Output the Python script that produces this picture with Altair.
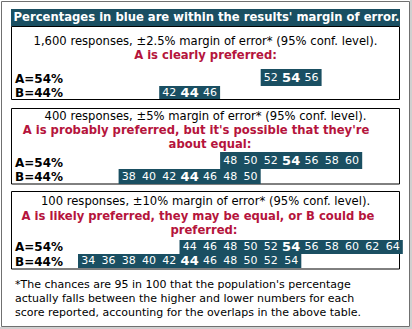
import altair as alt
import pandas as pd

# ---------------- data ----------------
TITLE = "Percentages in blue are within the results' margin of error."
SAMPLE_LINES = [
    "1,600 responses, \u00b12.5% margin of error* (95% conf. level).",
    "400 responses, \u00b15% margin of error* (95% conf. level).",
    "100 responses, \u00b110% margin of error* (95% conf. level).",
]
VERDICTS = [
    ["A is clearly preferred:"],
    ["A is probably preferred, but it's possible that they're", "about equal:"],
    ["A is likely preferred,  they may be equal, or B could be", "preferred:"],
]
LABEL_A = "A=54%"
LABEL_B = "B=44%"
SCORE_A = 54
SCORE_B = 44
A_1600 = [52, 54, 56]
B_1600 = [42, 44, 46]
A_400 = [48, 50, 52, 54, 56, 58, 60]
B_400 = [38, 40, 42, 44, 46, 48, 50]
A_100 = [44, 46, 48, 50, 52, 54, 56, 58, 60, 62, 64]
B_100 = [34, 36, 38, 40, 42, 44, 46, 48, 50, 52, 54]
FOOTNOTE = [
    "*The chances are 95 in 100 that the population's percentage",
    "actually falls between the higher and lower numbers for each",
    "score reported, accounting for the overlaps in the above table.",
]

# ---------------- layout / style ----------------
W, H = 412, 329
FONT = "DejaVu Sans"
TEAL = "#1a4f62"
RED = "#b5143c"
BODY = 11.6
PX_PER_PT = 10.15
X_AT_33 = 78
X0 = 33 - X_AT_33 / PX_PER_PT
X1 = X0 + W / PX_PER_PT

PANELS = [
    dict(box=(26, 99.5), lines=[42, 56], bars=(69, 86, 99), lab=(79, 93)),
    dict(box=(108, 184), lines=[117, 131, 145], bars=(152, 169, 184), lab=(163, 177)),
    dict(box=(191, 269), lines=[202, 217, 231], bars=(240, 254, 268), lab=(247, 262)),
]
CENTERS = [[205.5], [196, 210], [198, 204]]
FOOT_Y = [285, 299, 313]

# ---------------- build tables ----------------
vals = [(A_1600, B_1600), (A_400, B_400), (A_100, B_100)]
bar_rows, cell_rows = [], []
for p, (a_vals, b_vals) in enumerate(vals):
    at, ab, bb = PANELS[p]["bars"]
    for row, vs, score, y0, y1 in (("A", a_vals, SCORE_A, at, ab), ("B", b_vals, SCORE_B, ab, bb)):
        bar_rows.append(dict(panel=p, row=row, lo=min(vs) - 1, hi=max(vs) + 1, y0=y0, y1=y1))
        for v in vs:
            cell_rows.append(dict(panel=p, row=row, v=v, label=str(v),
                                  bold=(v == score), yc=(y0 + y1) / 2))
bars = pd.DataFrame(bar_rows)
cells = pd.DataFrame(cell_rows)

xs = alt.Scale(domain=[X0, X1], nice=False, zero=False)
ys = alt.Scale(domain=[0, H], reverse=True, nice=False, zero=False)

one = pd.DataFrame({"k": [0]})


def box(x0, x1, y0, y1, fill=None, stroke=None, sw=1):
    kw = {}
    if fill is not None:
        kw["fill"] = fill
    else:
        kw["fillOpacity"] = 0
    if stroke is not None:
        kw["stroke"] = stroke
        kw["strokeWidth"] = sw
    return alt.Chart(one).mark_rect(**kw).encode(
        x=alt.value(x0), x2=alt.value(x1), y=alt.value(y0), y2=alt.value(y1))


def txt(s, x, y, size=BODY, weight="normal", color="black", align="center"):
    return alt.Chart(pd.DataFrame({"t": [s]})).mark_text(
        align=align, baseline="middle", font=FONT, fontSize=size,
        fontWeight=weight, color=color).encode(
        x=alt.value(x), y=alt.value(y), text="t:N")


layers = []
# outer frame
layers.append(box(1.5, 409.5, 1.5, 326.5, stroke="#707070"))
layers.append(box(410, 412, 0, 329, fill="#d0d0d0"))
layers.append(box(0, 412, 327, 329, fill="#d0d0d0"))
# header
layers.append(box(11, 400, 9, 26, fill=TEAL))
layers.append(txt(TITLE, 206.5, 17.5, size=11.6, weight="bold", color="white"))

# panels boxes and texts
for p, pan in enumerate(PANELS):
    t, b = pan["box"]
    layers.append(box(11.5, 399.5, t + 0.5, b, stroke="black"))
    ly = pan["lines"]
    layers.append(txt(SAMPLE_LINES[p], 205.5, ly[0]))
    for i, line in enumerate(VERDICTS[p]):
        layers.append(txt(line, CENTERS[p][i], ly[i + 1], weight="bold", color=RED))
    la, lb = pan["lab"]
    layers.append(txt(LABEL_A, 15, la, size=12, weight="bold", align="left"))
    layers.append(txt(LABEL_B, 15, lb, size=12, weight="bold", align="left"))

# bars (through scales)
bar_layer = alt.Chart(bars).mark_rect(color=TEAL).encode(
    x=alt.X("lo:Q", scale=xs, axis=None),
    x2="hi:Q",
    y=alt.Y("y0:Q", scale=ys, axis=None),
    y2="y1:Q",
)
cell_norm = alt.Chart(cells).transform_filter("!datum.bold").mark_text(
    font=FONT, fontSize=11, color="white", baseline="middle").encode(
    x=alt.X("v:Q", scale=xs, axis=None),
    y=alt.Y("yc:Q", scale=ys, axis=None),
    text="label:N",
)
cell_bold = alt.Chart(cells).transform_filter("datum.bold").mark_text(
    font=FONT, fontSize=13, fontWeight="bold", color="white", baseline="middle").encode(
    x=alt.X("v:Q", scale=xs, axis=None),
    y=alt.Y("yc:Q", scale=ys, axis=None),
    text="label:N",
)
layers += [bar_layer, cell_norm, cell_bold]

# footnote
for i, line in enumerate(FOOTNOTE):
    layers.append(txt(line, 15, FOOT_Y[i], size=11, align="left"))

chart = alt.layer(*layers).properties(
    width=W, height=H, padding=0,
    autosize=alt.AutoSizeParams(type="none"),
    background="white",
).configure_view(stroke=None)

chart.save("out.html", embed_options={"renderer": "svg", "actions": False})
